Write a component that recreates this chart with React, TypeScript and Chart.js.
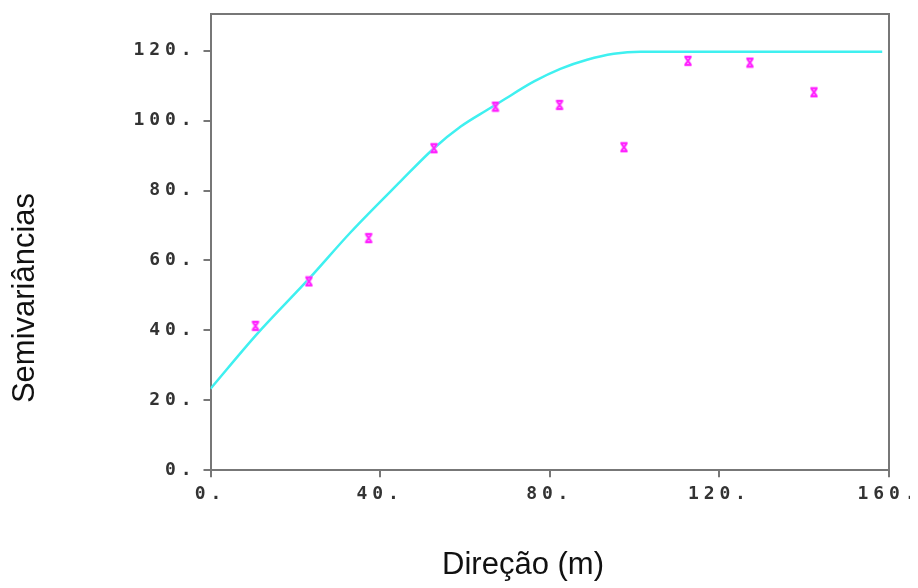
import React, { useEffect, useRef } from 'react';
import { Chart, registerables } from 'chart.js';

Chart.register(...registerables);

// Experimental semivariogram (distance in m, semivariance)
const lagDistances = [10.6, 23.2, 37.3, 52.7, 67.2, 82.3, 97.5, 112.6, 127.2, 142.3];
const semivariances = [41.3, 54.0, 66.4, 92.1, 104.0, 104.5, 92.4, 117.1, 116.6, 108.1];

// Fitted model curve
const modelDistances = [0, 11, 23.4, 33, 44.8, 52.7, 59, 65.3, 68.4, 76.3, 82.5, 88.8, 95.1, 101.4, 158.4];
const modelValues = [23.3, 39.0, 55.0, 68.0, 82.6, 92.1, 98.3, 103.1, 105.4, 111.2, 114.8, 117.4, 119.1, 119.7, 119.7];

const xTicks = [0, 40, 80, 120, 160];
const yTicks = [0, 20, 40, 60, 80, 100, 120];

const xTitle = 'Direção (m)';
const yTitle = 'Semivariâncias';

function makeMarker(): HTMLCanvasElement {
  const c = document.createElement('canvas');
  c.width = 10;
  c.height = 12;
  const g = c.getContext('2d')!;
  const drawShape = (color: string, w: number) => {
    g.strokeStyle = color;
    g.lineWidth = w;
    g.beginPath();
    g.moveTo(1.5, 2); g.lineTo(8.5, 2);
    g.moveTo(1.5, 10); g.lineTo(8.5, 10);
    g.moveTo(2.5, 2.5); g.lineTo(7.5, 9.5);
    g.moveTo(7.5, 2.5); g.lineTo(2.5, 9.5);
    g.stroke();
  };
  drawShape('rgba(255,150,255,0.7)', 3.2);
  drawShape('#ff22ff', 1.8);
  return c;
}

const tickFont = { family: '"DejaVu Sans Mono", monospace', size: 18, weight: 'bold' as const };
const titleFont = { family: '"Liberation Sans", Arial, sans-serif', size: 31, weight: 'normal' as const, lineHeight: 1 };
const axisColor = '#777777';

export default function App() {
  const ref = useRef<HTMLCanvasElement | null>(null);

  useEffect(() => {
    document.documentElement.style.overflow = 'hidden';
    document.body.style.overflow = 'hidden';
    const canvas = ref.current;
    if (!canvas) return;
    const marker = makeMarker();

    const spacingPlugin = {
      id: 'tickLetterSpacing',
      afterDatasetsDraw(chart: any) {
        chart.ctx.letterSpacing = '4.9px';
      },
      afterDraw(chart: any) {
        chart.ctx.letterSpacing = '0px';
      },
    };

    const noPad = (s: any) => {
      s.paddingTop = 0;
      s.paddingBottom = 0;
      s.paddingLeft = 0;
      s.paddingRight = 0;
    };

    const chart = new Chart(canvas, {
      type: 'scatter',
      data: {
        datasets: [
          {
            label: 'Modelo',
            data: modelDistances.map((x, i) => ({ x, y: modelValues[i] })),
            showLine: true,
            borderColor: '#3ff0f0',
            borderWidth: 2.5,
            pointRadius: 0,
            cubicInterpolationMode: 'monotone',
            fill: false,
            order: 2,
          },
          {
            label: 'Semivariâncias',
            data: lagDistances.map((x, i) => ({ x, y: semivariances[i] })),
            pointStyle: marker as any,
            pointRadius: 4,
            showLine: false,
            order: 1,
          },
        ],
      },
      options: {
        responsive: false,
        animation: false,
        devicePixelRatio: 1,
        layout: { padding: 0, autoPadding: false },
        plugins: {
          legend: { display: false },
          tooltip: { enabled: false },
          title: {
            display: true,
            text: yTitle,
            position: 'left',
            color: '#111111',
            font: titleFont,
            padding: { top: 1.5, bottom: 0 },
          },
          subtitle: {
            display: true,
            text: xTitle,
            position: 'bottom',
            color: '#111111',
            font: titleFont,
            padding: { top: 0, bottom: 7.5 },
          },
        },
        scales: {
          x: {
            type: 'linear',
            position: 'bottom',
            min: 0,
            max: 160,
            afterBuildTicks: (s: any) => { s.ticks = xTicks.map((v) => ({ value: v })); },
            afterFit: (s: any) => { s.height = 79.3; noPad(s); },
            grid: { drawOnChartArea: false, drawTicks: true, tickLength: 7, color: axisColor, lineWidth: 2 },
            border: { display: true, color: axisColor, width: 2 },
            ticks: {
              z: 1,
              padding: 6,
              color: '#333333',
              font: tickFont,
              maxRotation: 0,
              autoSkip: false,
              callback: (v: any) => v + '.',
            },
          },
          y: {
            type: 'linear',
            position: 'left',
            min: 0,
            max: 130.5,
            afterBuildTicks: (s: any) => { s.ticks = yTicks.map((v) => ({ value: v })); },
            afterFit: (s: any) => { s.width = 170; noPad(s); },
            grid: { drawOnChartArea: false, drawTicks: true, tickLength: 7, color: axisColor, lineWidth: 2 },
            border: { display: true, color: axisColor, width: 2 },
            ticks: {
              z: 1,
              padding: 7,
              color: '#333333',
              font: tickFont,
              autoSkip: false,
              callback: (v: any) => v + '.',
            },
          },
          x2: {
            type: 'linear',
            position: 'top',
            min: 0,
            max: 160,
            afterFit: (s: any) => { s.height = 6; noPad(s); },
            grid: { drawOnChartArea: false, drawTicks: false },
            border: { display: true, color: axisColor, width: 2 },
            ticks: { display: false },
          },
          y2: {
            type: 'linear',
            position: 'right',
            min: 0,
            max: 130.5,
            afterFit: (s: any) => { s.width = 149; noPad(s); },
            grid: { drawOnChartArea: false, drawTicks: false },
            border: { display: true, color: axisColor, width: 2 },
            ticks: { display: false },
          },
        },
      } as any,
      plugins: [spacingPlugin],
    });

    return () => {
      chart.destroy();
    };
  }, []);

  return (
    <div>
      <canvas ref={ref} width={1030} height={580} style={{ display: 'block' }} />
    </div>
  );
}
